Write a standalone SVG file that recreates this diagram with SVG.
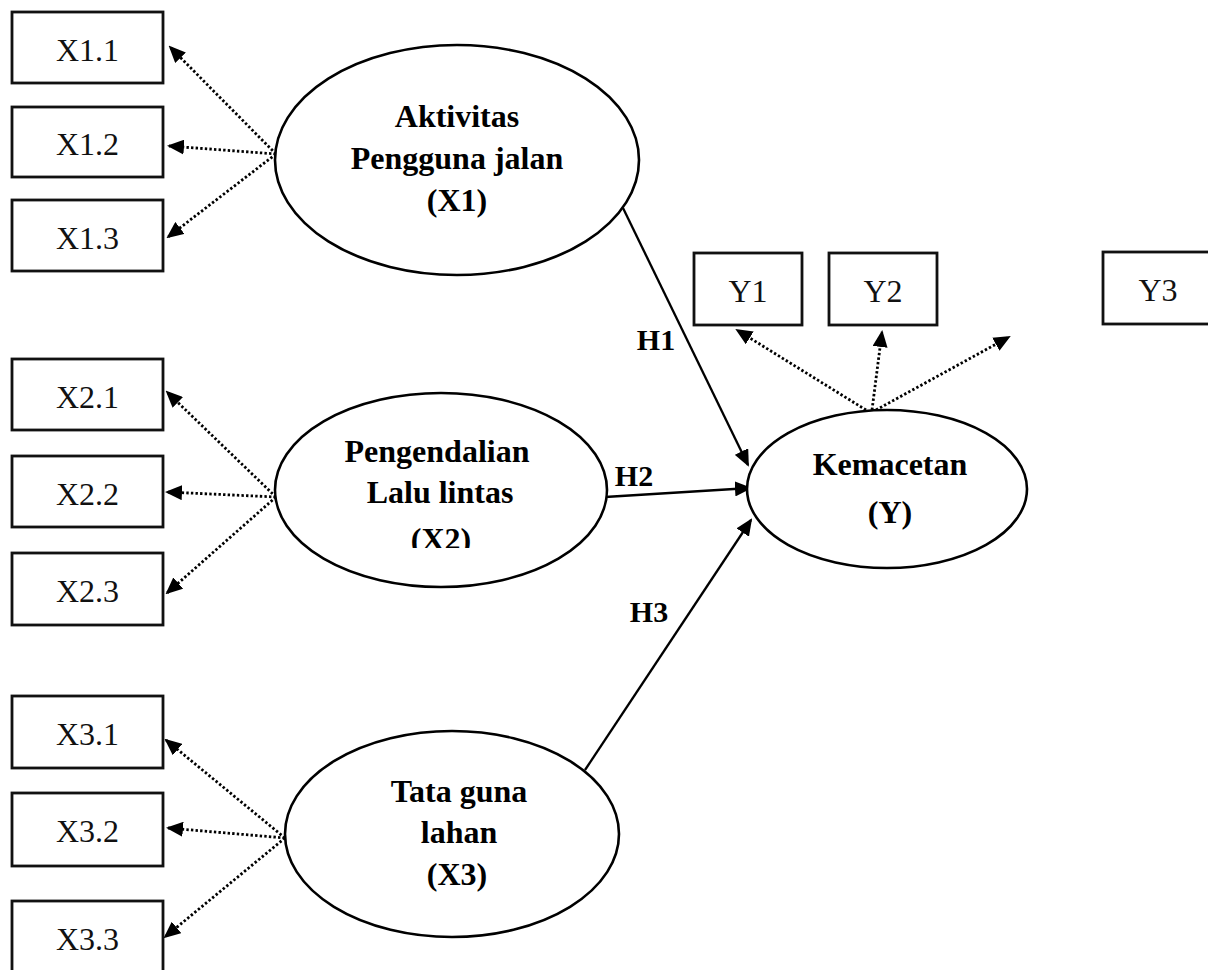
<svg xmlns="http://www.w3.org/2000/svg" width="1208" height="970" viewBox="0 0 1208 970">
<defs>
<style>
.box{fill:#fff;stroke:#111;stroke-width:2.8}
.ell{fill:#fff;stroke:#000;stroke-width:2.6}
.bt{font-family:"Liberation Serif","Times New Roman",serif;font-size:32px;text-anchor:middle;fill:#111}
.et{font-family:"Liberation Serif","Times New Roman",serif;font-size:32px;font-weight:bold;text-anchor:middle;fill:#000}
.ht{font-family:"Liberation Serif","Times New Roman",serif;font-size:30px;font-weight:bold;text-anchor:middle;fill:#000}
.dot{fill:none;stroke:#000;stroke-width:2.8;stroke-dasharray:2.4 2.2;marker-end:url(#ah)}
.sol{fill:none;stroke:#000;stroke-width:2.3;marker-end:url(#ah)}
</style>
<marker id="ah" markerUnits="userSpaceOnUse" markerWidth="17" markerHeight="15" viewBox="0 0 17 15" refX="15" refY="7.5" orient="auto">
<path d="M0,0 L17,7.5 L0,15 z" fill="#000"/>
</marker>
<clipPath id="cx2"><rect x="380" y="500" width="120" height="48"/></clipPath>
</defs>

<g id="connectors">
<line class="dot" x1="276" y1="154" x2="170" y2="47"/>
<line class="dot" x1="276" y1="154" x2="169" y2="146"/>
<line class="dot" x1="276" y1="154" x2="168" y2="237"/>
<line class="dot" x1="276" y1="497" x2="167" y2="392"/>
<line class="dot" x1="276" y1="497" x2="167" y2="492"/>
<line class="dot" x1="276" y1="497" x2="167" y2="593"/>
<line class="dot" x1="285" y1="838" x2="166" y2="740"/>
<line class="dot" x1="285" y1="838" x2="168" y2="828"/>
<line class="dot" x1="285" y1="838" x2="165" y2="937"/>
<line class="dot" x1="866" y1="410" x2="737" y2="330"/>
<line class="dot" x1="872" y1="410" x2="882" y2="332"/>
<line class="dot" x1="876" y1="410" x2="1009" y2="337"/>
<line class="sol" x1="623" y1="208" x2="748" y2="465"/>
<line class="sol" x1="605" y1="497" x2="750" y2="488"/>
<line class="sol" x1="585" y1="770" x2="751" y2="520"/>
<text class="ht" x="656" y="350">H1</text>
<text class="ht" x="634" y="486">H2</text>
<text class="ht" x="649" y="622">H3</text>
</g>

<g id="X1.1"><rect class="box" x="12" y="12" width="151" height="71"/><text class="bt" x="87.5" y="61">X1.1</text></g>
<g id="X1.2"><rect class="box" x="12" y="107" width="151" height="70"/><text class="bt" x="87.5" y="155">X1.2</text></g>
<g id="X1.3"><rect class="box" x="12" y="200" width="151" height="71"/><text class="bt" x="87.5" y="249">X1.3</text></g>
<g id="X2.1"><rect class="box" x="12" y="359" width="151" height="71"/><text class="bt" x="87.5" y="408">X2.1</text></g>
<g id="X2.2"><rect class="box" x="12" y="456" width="151" height="71"/><text class="bt" x="87.5" y="505">X2.2</text></g>
<g id="X2.3"><rect class="box" x="12" y="553" width="151" height="72"/><text class="bt" x="87.5" y="602">X2.3</text></g>
<g id="X3.1"><rect class="box" x="12" y="696" width="151" height="72"/><text class="bt" x="87.5" y="745">X3.1</text></g>
<g id="X3.2"><rect class="box" x="12" y="793" width="151" height="73"/><text class="bt" x="87.5" y="842">X3.2</text></g>
<g id="X3.3"><rect class="box" x="12" y="901" width="151" height="80"/><text class="bt" x="87.5" y="950">X3.3</text></g>

<g id="Y1"><rect class="box" x="694" y="253" width="108" height="72"/><text class="bt" x="748" y="302">Y1</text></g>
<g id="Y2"><rect class="box" x="829" y="253" width="108" height="72"/><text class="bt" x="883" y="302">Y2</text></g>
<g id="Y3"><rect class="box" x="1103" y="252" width="120" height="72"/><text class="bt" x="1158" y="301">Y3</text></g>

<g id="X1">
<ellipse class="ell" cx="457" cy="160" rx="182" ry="115"/>
<text class="et" x="457" y="127">Aktivitas</text>
<text class="et" x="457" y="169">Pengguna  jalan</text>
<text class="et" x="457" y="211">(X1)</text>
</g>

<g id="X2">
<ellipse class="ell" cx="441" cy="490" rx="166" ry="97"/>
<text class="et" x="437" y="462">Pengendalian</text>
<text class="et" x="440" y="503">Lalu lintas</text>
<text class="et" x="441" y="550" clip-path="url(#cx2)">(X2)</text>
</g>

<g id="X3">
<ellipse class="ell" cx="452" cy="834" rx="167" ry="103"/>
<text class="et" x="459" y="802">Tata guna</text>
<text class="et" x="459" y="843">lahan</text>
<text class="et" x="457" y="885">(X3)</text>
</g>

<g id="Y">
<ellipse class="ell" cx="887" cy="489" rx="140" ry="79"/>
<text class="et" x="890" y="475">Kemacetan</text>
<text class="et" x="890" y="523">(Y)</text>
</g>
</svg>
